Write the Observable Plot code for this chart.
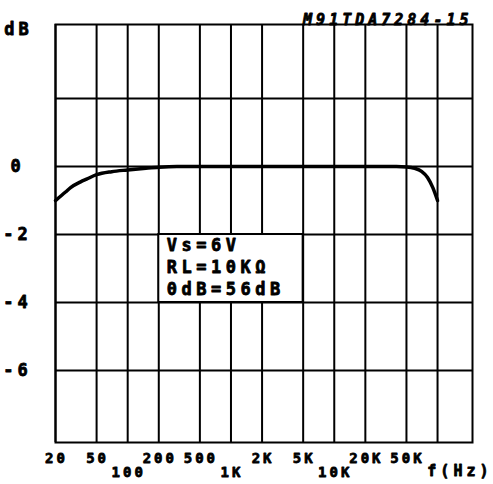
<!DOCTYPE html>
<html><head><meta charset="utf-8">
<script src="https://cdn.jsdelivr.net/npm/d3@7"></script>
<script src="https://cdn.jsdelivr.net/npm/@observablehq/plot@0.6"></script>
<style>
body{margin:0;background:#fff;}
#chart svg{display:block;}
</style>
</head><body><div id="chart"></div>
<script>
// Frequency response curve (Hz, dB)
const freqHz = [20, 25, 28, 35, 40, 50, 70, 100, 150, 200, 300, 500, 1000, 10000, 40000, 50000, 60000, 70000, 80000, 90000, 100000];
const gainDb = [-1.0, -0.75, -0.62, -0.45, -0.37, -0.24, -0.15, -0.1, -0.05, -0.02, 0, 0, 0, 0, 0, -0.01, -0.05, -0.14, -0.32, -0.62, -1.0];
const gridFreqs = [20, 50, 100, 200, 500, 1000, 2000, 5000, 10000, 20000, 50000, 100000];
const gridDb = [2, 0, -2, -4, -6];
const tickRow1 = [20, 50, 200, 500, 2000, 5000, 20000, 50000];
const tickRow2 = [100, 1000, 10000];
const yTicks = [0, -2, -4, -6];
const notes = ["Vs=6V", "RL=10KΩ", "0dB=56dB"];
const noteBox = [{x1: 200, x2: 5000, y1: -4, y2: -2}];
const title = "M91TDA7284-15";
const yLabel = "dB";
const xLabel = "f(Hz)";

const fmtHz = d => d >= 1000 ? (d / 1000) + "K" : String(d);
const data = freqHz.map((f, i) => ({f, db: gainDb[i]}));
const font = "'DejaVu Sans Mono', monospace";
const ink = {fill: "black", stroke: "black", fontWeight: "bold"};

const chart = Plot.plot({
  width: 493, height: 484,
  marginLeft: 55, marginRight: 21, marginTop: 24, marginBottom: 42,
  style: {fontFamily: font, background: "white", color: "black", overflow: "visible"},
  x: {type: "log", domain: [20, 218000], axis: null},
  y: {domain: [-8.12, 4.18], axis: null},
  marks: [
    Plot.ruleX(gridFreqs, {stroke: "black", strokeWidth: 2}),
    Plot.ruleY(gridDb, {stroke: "black", strokeWidth: 2}),
    Plot.rect(noteBox, {x1: "x1", x2: "x2", y1: "y1", y2: "y2", fill: "white", stroke: "black", strokeWidth: 2}),
    Plot.frame({stroke: "black", strokeWidth: 2}),
    Plot.line(data, {x: "f", y: "db", stroke: "black", strokeWidth: 3.5, curve: "monotone-x"}),
    Plot.text(tickRow1, {x: d => d, text: fmtHz, frameAnchor: "bottom", dx: 1, dy: 20, fontSize: 14, strokeWidth: 0.8, ...ink}),
    Plot.text(tickRow2, {x: d => d, text: fmtHz, frameAnchor: "bottom", dx: 1, dy: 34, fontSize: 14, strokeWidth: 0.8, ...ink}),
    Plot.text(yTicks, {y: d => d, text: d => String(d), frameAnchor: "left", dx: -38, textAnchor: "middle", fontSize: 17, strokeWidth: 0.8, ...ink}),
    Plot.text([yLabel], {frameAnchor: "top-left", dx: -37, dy: -2, textAnchor: "middle", fontSize: 17, strokeWidth: 0.8, ...ink}),
    Plot.text([title], {frameAnchor: "top-right", dx: 0, dy: -10, textAnchor: "end", fontSize: 15, fontStyle: "italic", strokeWidth: 0.8, ...ink}),
    Plot.text([xLabel], {frameAnchor: "bottom-right", dx: 20, dy: 33, textAnchor: "end", fontSize: 15, strokeWidth: 0.8, ...ink}),
    Plot.text([notes.join("\n")], {x: 200, y: -2, dx: 8, dy: 1, textAnchor: "start", lineAnchor: "top", lineHeight: 1.3, fontSize: 17, strokeWidth: 0.8, ...ink})
  ]
});
document.getElementById("chart").append(chart);

// letter spacing to mimic the plotter lettering
chart.querySelectorAll("text").forEach(t => {
  const s = t.textContent;
  let ls = 3;
  if (s === title) ls = 4;
  else if (s === yLabel || /^-?\d$/.test(s)) ls = 4;
  else if (s === xLabel) ls = 4;
  else if (notes.some(n => s.includes(n))) ls = 4.5;
  t.setAttribute("letter-spacing", ls);
});
</script>
</body></html>
